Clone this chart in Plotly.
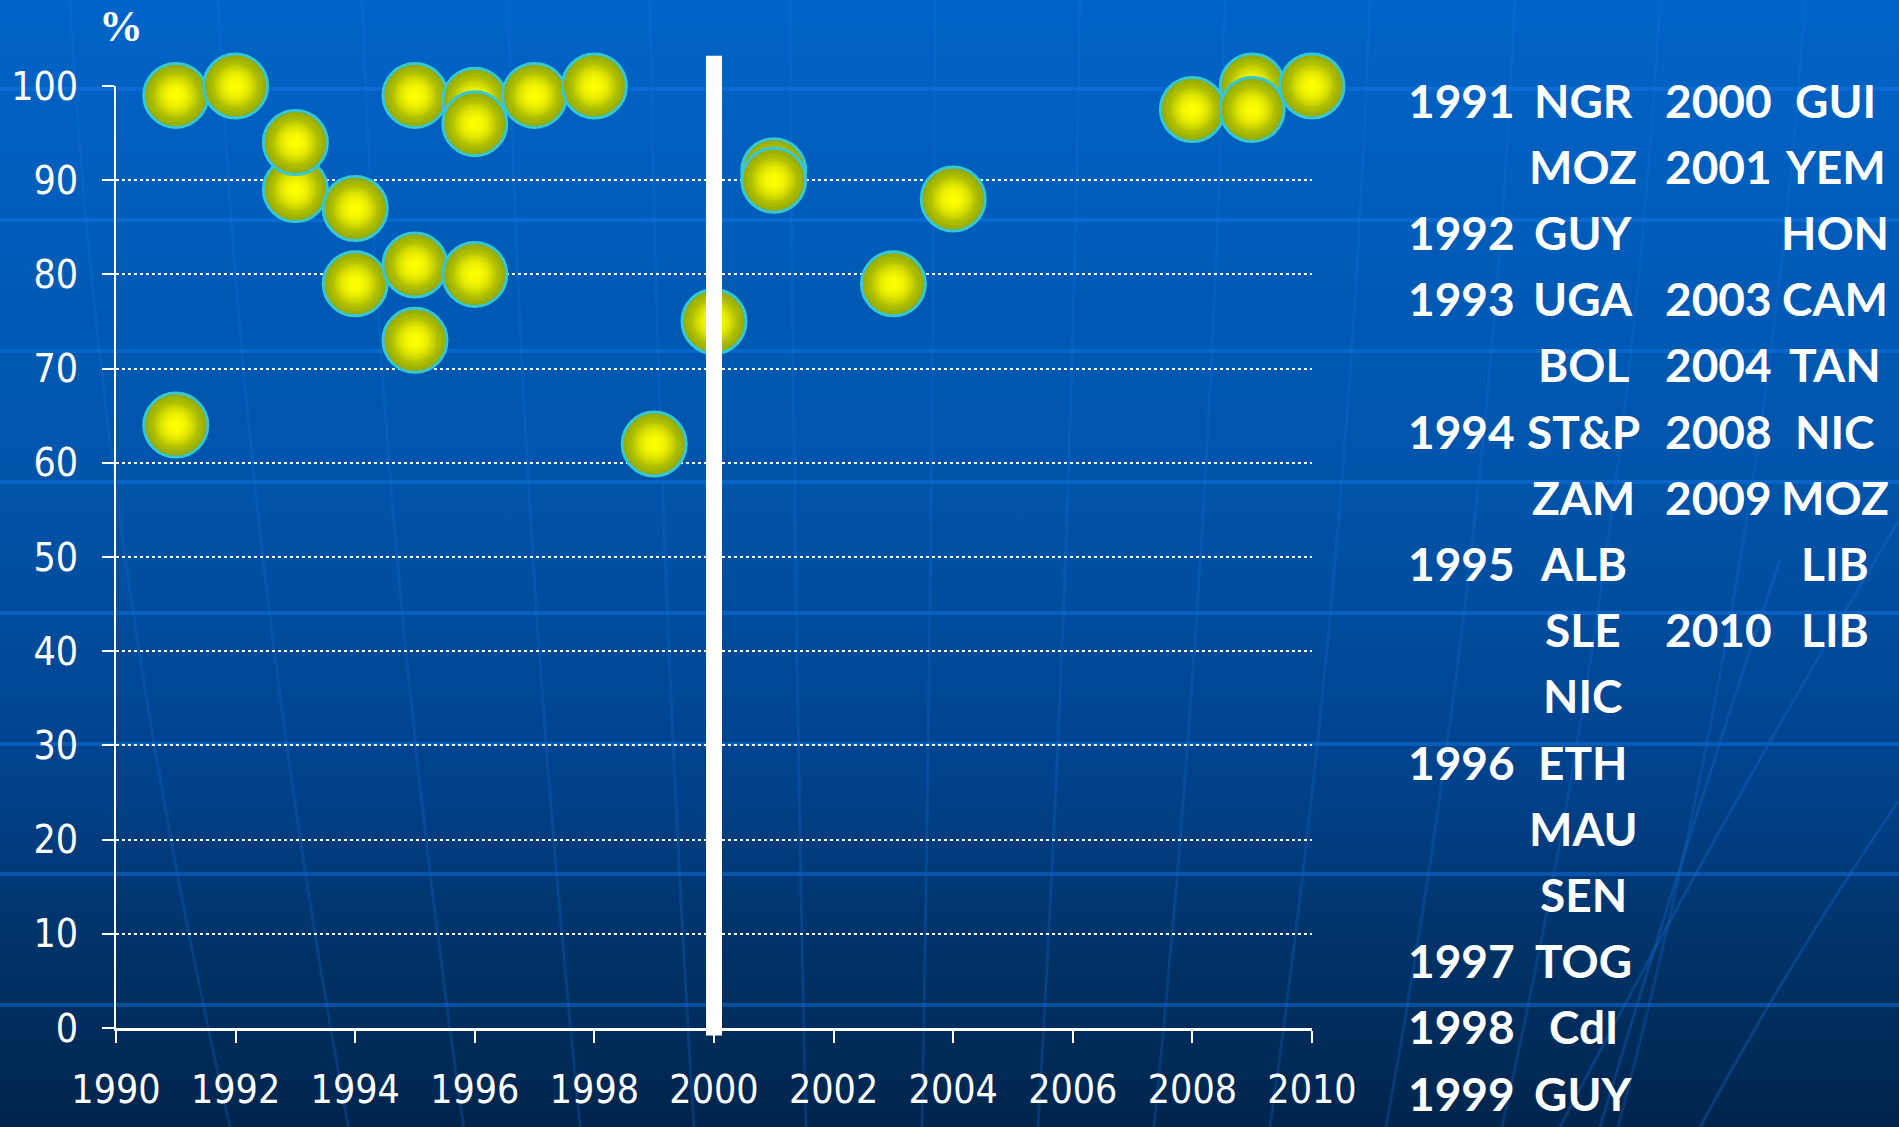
import base64
import plotly.graph_objects as go

# ---------------- data ----------------
years = [1991, 1991, 1992, 1993, 1993, 1994, 1994, 1995, 1995, 1995,
         1996, 1996, 1996, 1997, 1998, 1999, 2000, 2001, 2001, 2003,
         2004, 2008, 2009, 2009, 2010]
countries = ["NGR", "MOZ", "GUY", "UGA", "BOL", "ST&P", "ZAM", "ALB", "SLE", "NIC",
             "ETH", "MAU", "SEN", "TOG", "CdI", "GUY", "GUI", "YEM", "HON", "CAM",
             "TAN", "NIC", "MOZ", "LIB", "LIB"]
values = [99, 64, 100, 89, 94, 87, 79, 99, 81, 73,
          98.5, 96, 80, 99, 100, 62, 75, 91, 90, 79,
          88, 97.5, 100, 97.5, 100]
x_ticks = list(range(1990, 2011, 2))
y_ticks = list(range(0, 101, 10))
divider_year = 2000
divider_span = (-0.8, 103.2)
x_range = (1990, 2010)
y_range = (0, 100)
y_unit = "%"

# ---------------- geometry ----------------
W, H = 1899, 1127
ML, MR, MT, MB = 116, 587, 86, 99
PW, PH = W - ML - MR, H - MT - MB


def px_x(px):
    return (px - ML) / PW


def px_y(py):
    return 1 - (py - MT) / PH


# ---------------- background (svg gradient) ----------------
stops = [(0, "#0064C8"), (0.45, "#0053A8"), (0.7, "#00418A"), (0.85, "#003266"), (1, "#00254D")]
svg = [f'<svg xmlns="http://www.w3.org/2000/svg" width="{W}" height="{H}" viewBox="0 0 {W} {H}">',
       '<defs><linearGradient id="g" x1="0" y1="0" x2="0" y2="1">']
for o, c in stops:
    svg.append(f'<stop offset="{o}" stop-color="{c}"/>')
svg.append('</linearGradient></defs>')
svg.append(f'<rect x="0" y="0" width="{W}" height="{H}" fill="url(#g)"/>')
for yy in [89, 220, 351, 482, 613, 744, 874, 1005]:
    svg.append(f'<line x1="0" y1="{yy}" x2="{W}" y2="{yy}" stroke="#1278E8" stroke-opacity="0.45" stroke-width="4"/>')
cx = 870
for xt in [70, 218, 362, 508, 650, 790, 935, 1080, 1225, 1370, 1515, 1660, 1805]:
    xb = cx + (xt - cx) * 0.8
    xm = (xt + xb) / 2 + (xt - cx) * 0.06
    svg.append(f'<path d="M {xt} 0 Q {xm} {H/2} {xb} {H}" fill="none" stroke="#1670DC" stroke-opacity="0.25" stroke-width="3"/>')
for p in ["M 1899 520 Q 1720 820 1560 1127", "M 1899 800 Q 1790 960 1700 1127",
          "M 1780 560 Q 1680 860 1600 1127"]:
    svg.append(f'<path d="{p}" fill="none" stroke="#1670DC" stroke-opacity="0.3" stroke-width="3"/>')
svg.append('</svg>')
bg_uri = "data:image/svg+xml;base64," + base64.b64encode("".join(svg).encode()).decode()

# ---------------- figure ----------------
fig = go.Figure()
# one bubble (plus its bright core) per point, in data order so overlaps stack correctly
for yr, val, code in zip(years, values, countries):
    fig.add_trace(go.Scatter(
        x=[yr], y=[val], mode="markers", cliponaxis=False,
        text=[code], hoverinfo="x+y+text", showlegend=False,
        marker=dict(size=64, color="#8FA600",
                    gradient=dict(type="radial", color="#FFFF00"),
                    line=dict(color="#35C8D2", width=3)),
    ))
    fig.add_trace(go.Scatter(
        x=[yr], y=[val], mode="markers", cliponaxis=False,
        hoverinfo="skip", showlegend=False,
        marker=dict(size=44, color="rgba(255,255,0,0)",
                    gradient=dict(type="radial", color="#FFFF00"),
                    line=dict(width=0)),
    ))

tick_font = dict(family="DejaVu Sans Condensed, DejaVu Sans, sans-serif", size=39, color="white")
fig.update_xaxes(range=list(x_range), tickvals=x_ticks, ticktext=[str(t) for t in x_ticks],
                 showline=True, linecolor="white", linewidth=3,
                 ticks="outside", ticklen=12, tickwidth=2, tickcolor="white",
                 showgrid=False, zeroline=False, tickfont=tick_font, ticklabelstandoff=13)
fig.update_yaxes(range=list(y_range), tickvals=y_ticks, ticktext=[str(t) for t in y_ticks],
                 showline=True, linecolor="white", linewidth=2,
                 ticks="outside", ticklen=12, tickwidth=2, tickcolor="white",
                 showgrid=True, gridcolor="white", gridwidth=2, griddash="dot",
                 zeroline=False, tickfont=tick_font, ticklabelstandoff=16)

# vertical divider at 2000
fx = lambda v: (v - x_range[0]) / (x_range[1] - x_range[0])
fy = lambda v: (v - y_range[0]) / (y_range[1] - y_range[0])
fig.add_shape(type="line", xref="x domain", yref="y domain",
              x0=fx(divider_year), x1=fx(divider_year),
              y0=fy(divider_span[0]), y1=fy(divider_span[1]),
              line=dict(color="white", width=16), layer="above")

annotations = [dict(text="<b>" + y_unit + "</b>", xref="paper", yref="paper",
                    x=px_x(121), y=px_y(26), xanchor="center", yanchor="middle",
                    showarrow=False,
                    font=dict(family="Liberation Serif, Times New Roman, serif", size=44, color="white"))]

# year / country list on the right
leg_font = dict(family="Lato, Open Sans, sans-serif", size=46, color="white", weight="bold")
row0, row_h = 100, 66.2
cols = [dict(year_x=1406, code_x=1583, entries=[(y, c) for y, c in zip(years, countries) if y < 2000]),
        dict(year_x=1663, code_x=1835, entries=[(y, c) for y, c in zip(years, countries) if y >= 2000])]
for col in cols:
    prev = None
    for i, (yr, code) in enumerate(col["entries"]):
        py = row0 + i * row_h
        if yr != prev:
            annotations.append(dict(text=str(yr), xref="paper", yref="paper",
                                    x=px_x(col["year_x"]), y=px_y(py), xanchor="left", yanchor="middle",
                                    showarrow=False, font=leg_font))
        annotations.append(dict(text=code, xref="paper", yref="paper",
                                x=px_x(col["code_x"]), y=px_y(py), xanchor="center", yanchor="middle",
                                showarrow=False, font=leg_font))
        prev = yr

fig.update_layout(
    width=W, height=H, autosize=False,
    margin=dict(l=ML, r=MR, t=MT, b=MB, pad=0),
    paper_bgcolor="#004A9A", plot_bgcolor="rgba(0,0,0,0)",
    annotations=annotations,
    images=[dict(source=bg_uri, xref="paper", yref="paper",
                 x=-ML / PW, y=1 + MT / PH, sizex=W / PW, sizey=H / PH,
                 xanchor="left", yanchor="top", sizing="stretch", layer="below")],
)

fig.write_html("out.html", config={"displayModeBar": False},
               post_script="document.body.style.margin='0';document.body.style.overflow='hidden';")
